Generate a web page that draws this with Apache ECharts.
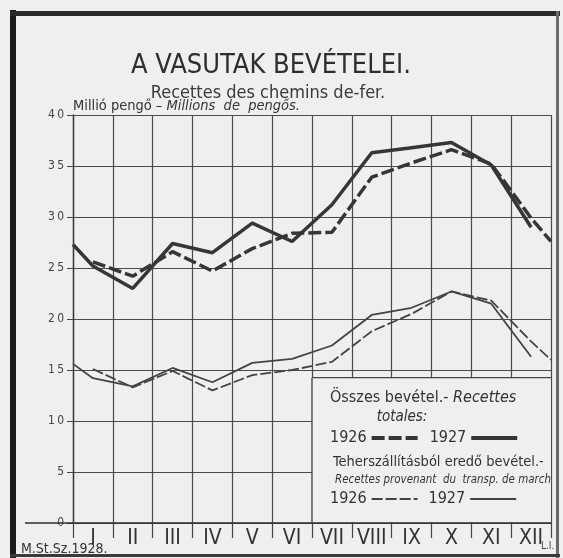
<!DOCTYPE html>
<html>
<head>
<meta charset="utf-8">
<script src="https://cdn.jsdelivr.net/npm/echarts@6/dist/echarts.min.js"></script>
<style>
html,body{margin:0;padding:0;background:#efefed;}
#chart{width:563px;height:558px;}
</style>
</head>
<body>
<div id="chart"></div>
<script>
// ---- data ----
const months = ['I','II','III','IV','V','VI','VII','VIII','IX','X','XI','XII'];
// Total receipts (million pengő)
const total1926 = [25.6, 24.2, 26.6, 24.7, 26.9, 28.4, 28.5, 33.9, 35.3, 36.6, 35.2, 29.9];
const total1926End = 27.6;      // value drawn at the right edge of the year
const total1927 = [25.2, 23.0, 27.4, 26.5, 29.4, 27.6, 31.2, 36.3, 36.8, 37.3, 35.1, 29.0];
const total1927Start = 27.3;    // value drawn at the left edge of the year
// Freight receipts
const freight1926 = [15.1, 13.3, 14.9, 13.0, 14.5, 15.0, 15.8, 18.8, 20.5, 22.7, 21.8, 17.8];
const freight1926End = 16.0;
const freight1927 = [14.2, 13.4, 15.2, 13.8, 15.7, 16.1, 17.4, 20.4, 21.1, 22.7, 21.5, 16.3];
const freight1927Start = 15.6;
// y-axis ticks
const yTickLabels = ['0','5','10','15','20','25','30','35','40'];
const yStep = 5;

const titleText = 'A VASUTAK BEVÉTELEI.';
const subtitleText = 'Recettes des chemins de-fer.';
const legendNames = ['1926 Összes', '1927 Összes', '1926 Teher', '1927 Teher'];

// ---- helpers ----
const FONT = "'DejaVu Sans Condensed', 'DejaVu Sans', sans-serif";
const INK = '#363636';
const xStart = 0, xEnd = months.length;
function monthly(vals) { return vals.map((v, i) => [i + 0.5, v]); }

const legendCommon = {
  orient: 'horizontal', align: 'right', padding: 0, itemWidth: 46, itemHeight: 10, itemGap: 10,
  selectedMode: false, formatter: (n) => n.slice(0, 4),
  itemStyle: { color: 'rgba(0,0,0,0)', borderWidth: 0, opacity: 0 },
  textStyle: { fontFamily: FONT, fontSize: 16, color: '#333' }
};

const option = {
  backgroundColor: '#efefed',
  animation: false,
  title: [
    { text: titleText, left: 271, top: 52, textAlign: 'center', padding: 0,
      textStyle: { fontFamily: FONT, fontSize: 27, fontWeight: 'normal', color: '#2e2e2e' } },
    { text: subtitleText, left: 268, top: 84, textAlign: 'center', padding: 0,
      textStyle: { fontFamily: FONT, fontSize: 18, fontWeight: 'normal', color: '#3a3a3a' } }
  ],
  grid: { left: 73, right: 12, top: 115, bottom: 35, outerBoundsMode: 'none', containLabel: false },
  xAxis: [
    { type: 'value', min: xStart, max: xEnd, interval: 1,
      axisLine: { show: false }, axisTick: { show: false }, axisLabel: { show: false },
      splitLine: { show: true, lineStyle: { color: '#4a4a4a', width: 1.2 } } },
    { type: 'category', data: months, boundaryGap: true, position: 'bottom',
      axisLine: { show: true, lineStyle: { color: '#2e2e2e', width: 1.6 } },
      axisTick: { show: true, length: 15, lineStyle: { color: '#444', width: 1.2 } },
      axisLabel: { show: true, margin: 5, fontFamily: FONT, fontSize: 21, color: '#333', interval: 0 },
      splitLine: { show: false } }
  ],
  yAxis: {
    type: 'value', min: 0, max: (yTickLabels.length - 1) * yStep, interval: yStep,
    name: '{a|Millió pengő – }{b|Millions  de  pengős.}',
    nameLocation: 'end', nameGap: 1,
    nameTextStyle: { align: 'left', verticalAlign: 'bottom',
      rich: {
        a: { fontFamily: FONT, fontSize: 14.5, color: '#333' },
        b: { fontFamily: FONT, fontSize: 14.5, color: '#333', fontStyle: 'italic' }
      } },
    axisLine: { show: true, lineStyle: { color: '#3a3a3a', width: 1.4 } },
    axisTick: { show: true, length: 6, lineStyle: { color: '#444' } },
    axisLabel: { margin: 9, fontFamily: FONT, fontSize: 12, color: '#444',
      formatter: (v) => { const s = yTickLabels[Math.round(v / yStep)] || String(v); return s.split('').join('\u2009'); } },
    splitLine: { show: true, lineStyle: { color: '#4a4a4a', width: 1.2 } }
  },
  legend: [
    Object.assign({ data: [legendNames[0], legendNames[1]], left: 330, top: 430,
      lineStyle: { width: 4 } }, legendCommon),
    Object.assign({ data: [legendNames[2], legendNames[3]], left: 330, top: 491,
      lineStyle: { width: 1.8 } }, legendCommon)
  ],
  series: [
    { name: legendNames[0], type: 'line', xAxisIndex: 0, yAxisIndex: 0, symbol: 'none', z: 3,
      data: monthly(total1926).concat([[xEnd, total1926End]]),
      itemStyle: { color: INK },
      lineStyle: { color: INK, width: 3.5, type: [13, 4] } },
    { name: legendNames[1], type: 'line', xAxisIndex: 0, yAxisIndex: 0, symbol: 'none', z: 3,
      data: [[xStart, total1927Start]].concat(monthly(total1927)),
      itemStyle: { color: INK },
      lineStyle: { color: INK, width: 3.5, type: 'solid' } },
    { name: legendNames[2], type: 'line', xAxisIndex: 0, yAxisIndex: 0, symbol: 'none', z: 3,
      data: monthly(freight1926).concat([[xEnd, freight1926End]]),
      itemStyle: { color: '#444' },
      lineStyle: { color: '#444', width: 1.8, type: [11, 3] } },
    { name: legendNames[3], type: 'line', xAxisIndex: 0, yAxisIndex: 0, symbol: 'none', z: 3,
      data: [[xStart, freight1927Start]].concat(monthly(freight1927)),
      itemStyle: { color: '#444' },
      lineStyle: { color: '#444', width: 1.8, type: 'solid' } }
  ]
};

const chart = echarts.init(document.getElementById('chart'), null, { renderer: 'canvas' });
chart.setOption(option);

// legend box & decorations placed relative to the axes
const toPx = (p) => chart.convertToPixel({ seriesIndex: 0 }, p);
const boxTL = toPx([6, 14.25]);
const boxBR = toPx([xEnd, 0]);
const axisLeft = toPx([xStart, 0]);
const BG = '#efefed';

chart.setOption({
  graphic: [
    // legend box covering the grid
    { type: 'rect', z: 1, shape: { x: boxTL[0], y: boxTL[1], width: boxBR[0] - boxTL[0], height: boxBR[1] - boxTL[1] - 1 },
      style: { fill: BG, stroke: null } },
    { type: 'line', z: 1, shape: { x1: boxTL[0], y1: boxTL[1], x2: boxBR[0], y2: boxTL[1] }, style: { stroke: '#444', lineWidth: 1.3 } },
    { type: 'line', z: 1, shape: { x1: boxTL[0], y1: boxTL[1], x2: boxTL[0], y2: boxBR[1] }, style: { stroke: '#444', lineWidth: 1.3 } },
    { type: 'text', z: 5, style: { x: 330, y: 398, verticalAlign: 'middle',
      text: '{n|Összes bevétel.- }{i|Recettes}',
      rich: { n: { fontFamily: FONT, fontSize: 16, fill: '#333' }, i: { fontFamily: FONT, fontSize: 16, fontStyle: 'italic', fill: '#333' } } } },
    { type: 'text', z: 5, style: { x: 402, y: 417, align: 'center', verticalAlign: 'middle', text: 'totales:',
      font: "italic 15px " + FONT, fill: '#333' } },
    { type: 'text', z: 5, style: { x: 333, y: 462, verticalAlign: 'middle', text: 'Teherszállításból eredő bevétel.-',
      font: "14.5px " + FONT, fill: '#333' } },
    { type: 'text', z: 5, x: 335, y: 480, scaleX: 0.88, style: { x: 0, y: 0, verticalAlign: 'middle', text: 'Recettes provenant  du  transp. de march',
      font: "italic 13px " + FONT, fill: '#333' } },
    // x-axis extension to the left
    { type: 'line', z: 2, shape: { x1: 25, y1: axisLeft[1], x2: axisLeft[0], y2: axisLeft[1] }, style: { stroke: '#2e2e2e', lineWidth: 1.6 } },
    // footer texts
    { type: 'text', z: 5, style: { x: 21, y: 549, verticalAlign: 'middle', text: 'M.St.Sz.1928.', font: "14px " + FONT, fill: '#333' } },
    { type: 'text', z: 5, style: { x: 541, y: 546, verticalAlign: 'middle', text: 'L.I.', font: "10px " + FONT, fill: '#444' } },
    // frame
    { type: 'rect', z: 6, shape: { x: 10, y: 10, width: 6, height: 548 }, style: { fill: '#1c1c1c' } },
    { type: 'rect', z: 6, shape: { x: 10, y: 11, width: 550, height: 5 }, style: { fill: '#2a2a2a' } },
    { type: 'rect', z: 6, shape: { x: 556, y: 11, width: 3, height: 547 }, style: { fill: '#6a6a6a' } },
    { type: 'rect', z: 6, shape: { x: 10, y: 554, width: 550, height: 3 }, style: { fill: '#3a3a3a' } }
  ]
});
</script>
</body>
</html>
